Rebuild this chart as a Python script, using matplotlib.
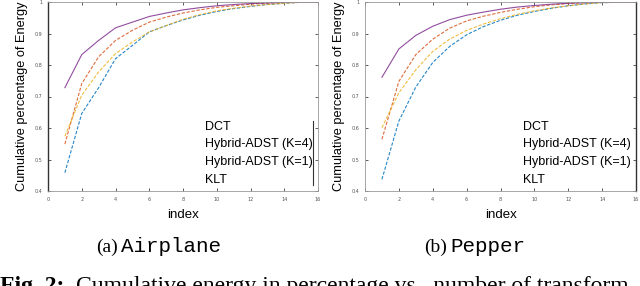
import matplotlib
matplotlib.use("Agg")
import matplotlib.pyplot as plt
from matplotlib.lines import Line2D

index = list(range(1, 17))
series_names = ["DCT", "Hybrid-ADST (K=4)", "Hybrid-ADST (K=1)", "KLT"]

airplane_dct = [0.458, 0.646, 0.728, 0.820, 0.862, 0.905, 0.925, 0.943, 0.958, 0.970, 0.979, 0.986, 0.992, 0.996, 0.999, 1.0]
airplane_k4 = [0.549, 0.741, 0.826, 0.878, 0.910, 0.936, 0.952, 0.965, 0.975, 0.983, 0.988, 0.993, 0.996, 0.998, 0.999, 1.0]
airplane_k1 = [0.574, 0.704, 0.778, 0.836, 0.873, 0.905, 0.925, 0.945, 0.960, 0.972, 0.980, 0.987, 0.992, 0.996, 0.999, 1.0]
airplane_klt = [0.728, 0.833, 0.878, 0.918, 0.936, 0.954, 0.965, 0.975, 0.982, 0.988, 0.992, 0.995, 0.997, 0.999, 1.0, 1.0]

pepper_dct = [0.437, 0.622, 0.730, 0.808, 0.859, 0.896, 0.922, 0.942, 0.958, 0.970, 0.980, 0.988, 0.994, 0.998, 0.999, 1.0]
pepper_k4 = [0.564, 0.748, 0.833, 0.882, 0.917, 0.940, 0.955, 0.967, 0.977, 0.985, 0.991, 0.995, 0.998, 0.999, 1.0, 1.0]
pepper_k1 = [0.601, 0.712, 0.785, 0.843, 0.882, 0.910, 0.930, 0.947, 0.961, 0.972, 0.981, 0.988, 0.994, 0.998, 0.999, 1.0]
pepper_klt = [0.761, 0.851, 0.894, 0.923, 0.944, 0.958, 0.968, 0.977, 0.984, 0.989, 0.993, 0.996, 0.998, 0.999, 1.0, 1.0]

xticks = [0, 2, 4, 6, 8, 10, 12, 14, 16]
yticks = [0.4, 0.5, 0.6, 0.7, 0.8, 0.9, 1.0]
ytick_labels = ["0.4", "0.5", "0.6", "0.7", "0.8", "0.9", "1"]
captions = [("(a)", "Airplane"), ("(b)", "Pepper")]

colors = ["#0072BD", "#D95319", "#EDB120", "#7E2F8E"]
styles = [(0, (3, 1.5)), (0, (3, 1.5)), (0, (3, 1.5)), "-"]

W, H = 640, 286
fig = plt.figure(figsize=(W / 100, H / 100), dpi=100)
sans = ["Liberation Sans", "DejaVu Sans"]
serif = ["Liberation Serif", "DejaVu Serif"]
mono = ["Liberation Mono", "DejaVu Sans Mono"]

def fx(px):
    return px / W

def fy(py):
    return (H - py) / H

panels = [
    (48, 318, [airplane_dct, airplane_k4, airplane_k1, airplane_klt]),
    (365, 636, [pepper_dct, pepper_k4, pepper_k1, pepper_klt]),
]

for i, (x0, x1, data) in enumerate(panels):
    ax = fig.add_axes([fx(x0), fy(191), fx(x1 - x0), (191 - 2) / H])
    for vals, c, ls, name in zip(data, colors, styles, series_names):
        ax.plot(index, vals, color=c, linestyle=ls, linewidth=0.8, alpha=0.85, label=name)
    ax.set_xlim(0, 16)
    ax.set_ylim(0.4, 1.0)
    ax.set_xticks(xticks)
    ax.set_xticklabels([str(t) for t in xticks])
    ax.set_yticks(yticks)
    ax.set_yticklabels(ytick_labels)
    ax.tick_params(direction="in", length=2, width=0.6, labelsize=3.5,
                   labelcolor="#555555", color="#444444", top=True, right=True, pad=4)
    for s in ax.spines.values():
        s.set_linewidth(0.6)
        s.set_color("#999999")
    ax.spines["left" if i == 0 else "right"].set_color("#333333")
    ax.spines["left" if i == 0 else "right"].set_linewidth(1.0)
    ax.set_xlabel("index", family=sans, fontsize=9.5, labelpad=5)
    ax.set_ylabel("Cumulative percentage of Energy", family=sans, fontsize=9.2, labelpad=5)
    leg = ax.legend(loc="center left", bbox_to_anchor=(0.56, 0.20), frameon=False,
                    handlelength=0, handletextpad=0, borderpad=0, labelspacing=0.45,
                    prop={"family": sans, "size": 9})
    for h in leg.legend_handles:
        h.set_visible(False)
    if i == 0:
        ax.add_line(Line2D([0.982, 0.982], [0.03, 0.37], transform=ax.transAxes,
                           color="#333333", linewidth=0.8))
    lab, name = captions[i]
    cx = [118, 447][i]
    fig.text(fx(cx), fy(252), lab, family=serif, fontsize=14, ha="right", va="baseline")
    fig.text(fx(cx + 3), fy(252), name, family=mono, fontsize=15, ha="left", va="baseline")

fig.text(fx(0), fy(292), "Fig. 2:", family=serif,
         fontsize=17, fontweight="bold", ha="left", va="baseline")
fig.text(fx(76), fy(292), "Cumulative energy in percentage vs.  number of transform",
         family=serif, fontsize=17, ha="left", va="baseline")

fig.savefig("out.png", dpi=100)
